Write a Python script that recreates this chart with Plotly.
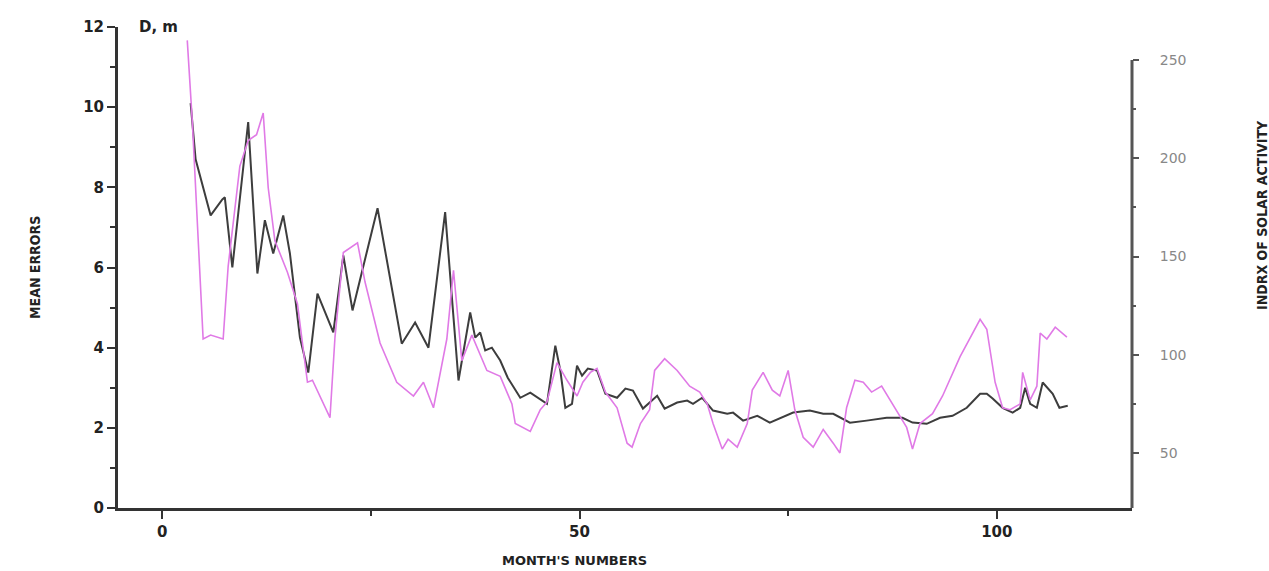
import plotly.graph_objects as go

# Mean errors (left axis), traced vertices: month number, value (D, m)
err_month = [3.4, 4.0, 5.8, 7.2, 7.5, 8.4, 10.3, 11.4, 12.3, 13.3, 14.5, 15.3, 16.5, 17.5, 18.6,
             20.5, 21.7, 22.8, 25.8, 28.7, 30.3, 31.9, 33.9, 35.5, 36.9, 37.5, 38.1, 38.7, 39.5,
             40.5, 41.4, 42.9, 44.1, 45.0, 46.1, 47.1, 47.7, 48.3, 49.1, 49.7, 50.3, 51.0, 52.1,
             53.1, 54.5, 55.5, 56.4, 57.6, 59.3, 60.2, 61.7, 62.9, 63.6, 64.7, 66.0, 67.7, 68.4,
             69.6, 71.3, 72.8, 75.6, 77.6, 79.2, 80.4, 82.4, 84.4, 86.8, 88.7, 89.9, 91.6, 93.2,
             94.7, 96.4, 98.0, 98.8, 99.5, 100.7, 101.9, 102.8, 103.4, 104.0, 104.8, 105.5, 106.7,
             107.5, 108.5]
err_value = [10.1, 8.7, 7.3, 7.7, 7.75, 6.0, 9.63, 5.85, 7.18, 6.35, 7.3, 6.35, 4.25, 3.38, 5.35,
             4.38, 6.3, 4.93, 7.48, 4.1, 4.63, 4.0, 7.38, 3.18, 4.88, 4.25, 4.38, 3.93, 4.0,
             3.68, 3.25, 2.75, 2.88, 2.75, 2.6, 4.05, 3.43, 2.5, 2.6, 3.55, 3.3, 3.48, 3.43,
             2.85, 2.75, 2.98, 2.93, 2.48, 2.8, 2.48, 2.63, 2.68, 2.6, 2.75, 2.43, 2.35, 2.38,
             2.18, 2.3, 2.13, 2.38, 2.43, 2.35, 2.35, 2.13, 2.18, 2.25, 2.25, 2.13, 2.1, 2.25,
             2.3, 2.5, 2.85, 2.85, 2.73, 2.5, 2.38, 2.5, 3.0, 2.6, 2.5, 3.13, 2.85,
             2.5, 2.55]

# Index of solar activity (right axis), traced vertices
sol_month = [3.0, 3.6, 4.0, 4.9, 5.8, 6.7, 7.3, 7.9, 9.3, 10.3, 11.3, 12.1, 12.7, 13.5, 15.0,
             16.2, 17.4, 18.0, 20.1, 20.7, 21.7, 23.4, 24.3, 26.1, 28.1, 30.1, 31.3, 32.5, 34.1,
             34.9, 35.9, 37.1, 38.9, 40.5, 41.9, 42.3, 44.1, 45.3, 46.1, 47.3, 48.5, 49.7, 50.4,
             51.3, 52.1, 53.1, 54.5, 55.7, 56.3, 57.3, 58.4, 59.0, 60.2, 61.7, 63.2, 64.4, 65.3,
             66.0, 67.1, 67.8, 68.9, 70.1, 70.7, 72.0, 73.1, 74.0, 75.0, 75.8, 76.8, 78.0, 79.2,
             80.4, 81.2, 82.0, 83.0, 84.0, 85.0, 86.2, 87.5, 89.2, 89.9, 90.8, 92.3, 93.5, 95.6,
             98.0, 98.8, 99.8, 100.7, 101.6, 102.8, 103.1, 104.0, 104.8, 105.2, 106.0, 107.0,
             107.9, 108.4]
sol_value = [260, 219, 185, 108, 110, 109, 108, 145, 196, 209, 212, 223, 185, 158, 142,
             126, 86, 87, 68, 109, 152, 157, 137, 106, 86, 79, 86, 73, 108,
             143, 97, 110, 92, 89, 75, 65, 61, 72, 76, 96, 87, 79, 86,
             91, 93, 81, 73, 55, 53, 65, 72, 92, 98, 92, 84, 81, 75,
             65, 52, 57, 53, 65, 82, 91, 82, 79, 92, 72, 58, 53, 62,
             55, 50, 73, 87, 86, 81, 84, 75, 63, 52, 65, 70, 79, 99,
             118, 113, 86, 73, 72, 75, 91, 77, 84, 111, 108, 114,
             111, 109]

left_ticks = [0, 2, 4, 6, 8, 10, 12]
right_ticks = [50, 100, 150, 200, 250]
x_ticks = [0, 50, 100]

fig = go.Figure()
fig.add_trace(go.Scatter(x=sol_month, y=sol_value, mode="lines", yaxis="y2",
                         line=dict(color="#e07ae6", width=1.6), showlegend=False))
fig.add_trace(go.Scatter(x=err_month, y=err_value, mode="lines",
                         line=dict(color="#3d3d3d", width=2), showlegend=False))

bold = dict(family="DejaVu Sans", size=15, color="#222", weight="bold")
narrow = "Liberation Sans Narrow, DejaVu Sans Condensed, DejaVu Sans"

fig.update_layout(
    width=1269, height=571,
    margin=dict(l=118, r=137, t=27, b=63),
    paper_bgcolor="white", plot_bgcolor="white",
    xaxis=dict(range=[-5.3, 116.2], tickmode="array", tickvals=x_ticks,
               ticks="outside", ticklen=8, tickwidth=2, tickcolor="#333",
               minor=dict(tickmode="array", tickvals=[25, 75], ticks="outside", ticklen=5,
                          tickwidth=2, tickcolor="#333"),
               showline=True, linewidth=3, linecolor="#333", showgrid=False, zeroline=False,
               tickfont=bold),
    yaxis=dict(range=[0, 12], tickmode="array", tickvals=left_ticks,
               ticks="outside", ticklen=8, tickwidth=2, tickcolor="#333",
               minor=dict(tickmode="array", tickvals=[1, 3, 5, 7, 9, 11], ticks="outside",
                          ticklen=5, tickwidth=2, tickcolor="#333"),
               showline=True, linewidth=3, linecolor="#333", showgrid=False, zeroline=False,
               tickfont=bold),
    yaxis2=dict(range=[22, 266.8], overlaying="y", side="right", tickmode="array",
                tickvals=right_ticks, ticks="outside", ticklen=6, tickwidth=2, tickcolor="#555",
                ticklabelstandoff=18,
                minor=dict(tickmode="array", tickvals=[75, 125, 175, 225], ticks="outside",
                           ticklen=3, tickwidth=2, tickcolor="#555"),
                showline=False, showgrid=False, zeroline=False,
                tickfont=dict(family="DejaVu Sans", size=14, color="#888")),
    shapes=[dict(type="line", xref="paper", x0=1, x1=1, yref="y2", y0=22, y1=250,
                 line=dict(color="#555", width=3))],
    annotations=[
        dict(text="D, m", xref="paper", yref="paper", x=(137 - 118) / 1014, y=1.0,
             xanchor="left", yanchor="middle", showarrow=False,
             font=dict(family="DejaVu Sans", size=15, color="#222", weight="bold")),
        dict(text="MONTH'S NUMBERS", xref="paper", yref="paper", x=(574 - 118) / 1014,
             y=-(560 - 508) / 481, xanchor="center", yanchor="middle", showarrow=False,
             font=dict(family="DejaVu Sans", size=13, color="#222", weight="bold")),
        dict(text="MEAN ERRORS", xref="paper", yref="paper", x=(35 - 118) / 1014,
             y=(508 - 268) / 481, xanchor="center", yanchor="middle", textangle=-90,
             showarrow=False, font=dict(family=narrow, size=14, color="#222", weight="bold")),
        dict(text="INDRX OF SOLAR ACTIVITY", xref="paper", yref="paper",
             x=(1262 - 118) / 1014, y=(508 - 215) / 481, xanchor="center", yanchor="middle",
             textangle=-90, showarrow=False,
             font=dict(family=narrow, size=14, color="#222", weight="bold")),
    ],
)

fig.write_html("out.html")
